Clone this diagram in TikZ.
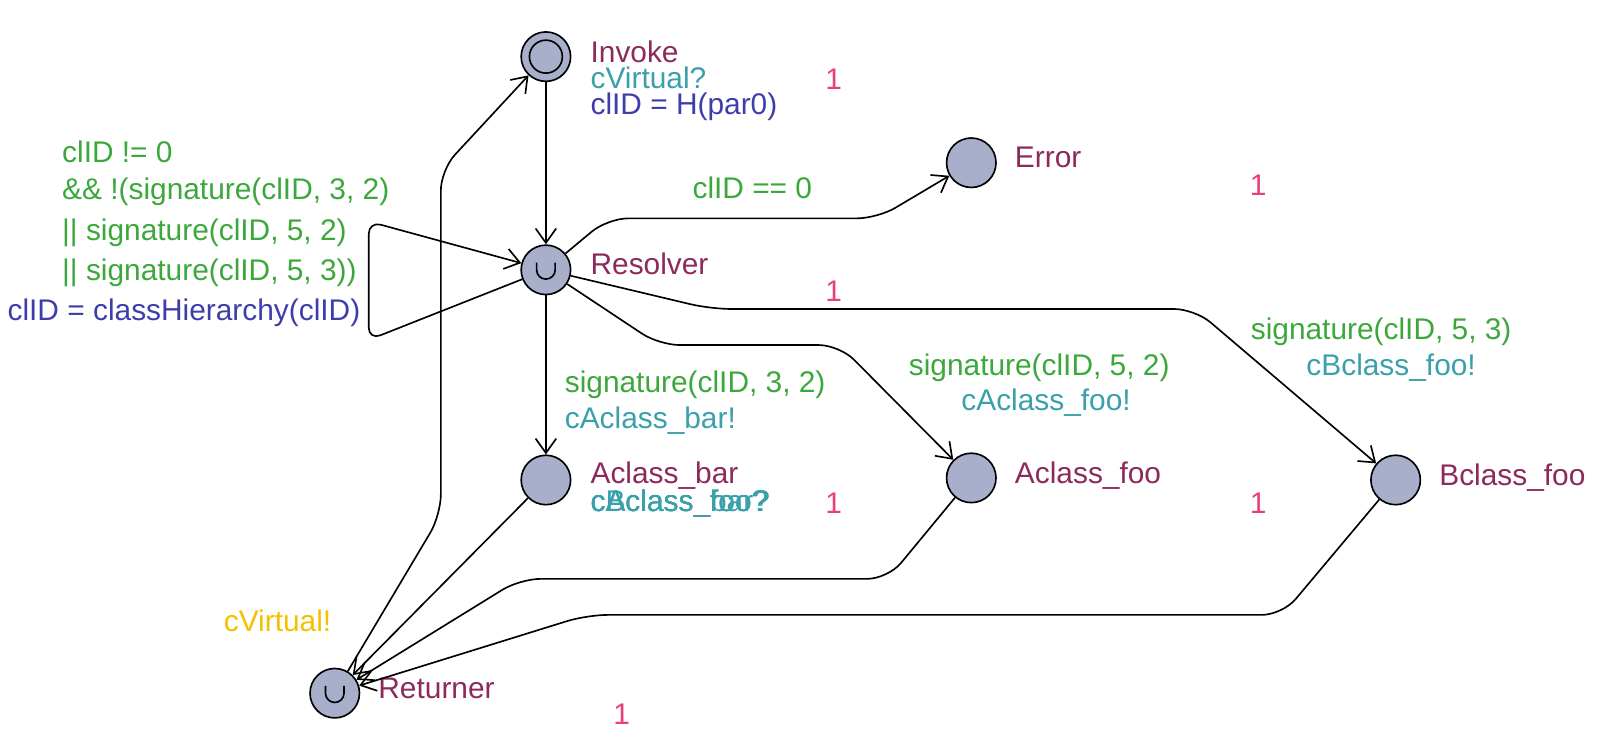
\documentclass[tikz,border=0pt]{standalone}
\usepackage{fontspec}
\setmainfont{Liberation Sans}
\usetikzlibrary{arrows.meta}
\definecolor{locfill}{RGB}{168,175,203}
\definecolor{locname}{RGB}{140,42,92}
\definecolor{guardcol}{RGB}{60,168,60}
\definecolor{synccol}{RGB}{58,160,170}
\definecolor{assigncol}{RGB}{62,62,170}
\definecolor{ratecol}{RGB}{232,64,122}
\definecolor{emitcol}{RGB}{245,192,0}
\tikzset{
	locstyle/.style={circle,draw=black,fill=locfill,line width=0.8pt,minimum size=24pt,inner sep=0pt},
	textstyle/.style={anchor=west,inner sep=0pt,font=\fontsize{14.5}{16}\selectfont},
	namestyle/.style={textstyle,text=locname},
	guardstyle/.style={textstyle,text=guardcol},
	syncstyle/.style={textstyle,text=synccol},
	assignstyle/.style={textstyle,text=assigncol},
	ratestyle/.style={textstyle,text=ratecol},
	edgestyle/.style={draw=black,line width=0.8pt,rounded corners=10pt,-{Straight Barb[length=7pt,width=10pt]}}
}
\newcommand{\urgentmark}[1]{\draw[line width=0.8pt] ([shift={(-4.5pt,3.5pt)}]#1.center) -- ++(0,-3.5pt) arc[start angle=180,end angle=360,radius=4.5pt] -- ++(0,3.5pt);}
\begin{document}
\begin{tikzpicture}[x=0.5pt,y=-0.5pt]
		\useasboundingbox (0,0) rectangle (1567,727);
		% locations
		\node[locstyle] (inv) at (530,55) {};
		\draw[line width=0.8pt] (inv) circle[radius=8pt];
		\node[locstyle] (err) at (943,158) {};
		\node[locstyle] (res) at (530,262) {};
		\urgentmark{res}
		\node[locstyle] (abar) at (530,466) {};
		\node[locstyle] (afoo) at (943,464) {};
		\node[locstyle] (bfoo) at (1355,466) {};
		\node[locstyle] (ret) at (325,673) {};
		\urgentmark{ret}
		% location labels
		\node[namestyle] (invname) at (573,50) {Invoke};
		\node[syncstyle] (invsync) at (573,76) {cVirtual?};
		\node[assignstyle] (invassign) at (573,104) {clID = H(par0)};
		\node[ratestyle] (invrate) at (801,77) {1};
		\node[namestyle] (errname) at (985,153) {Error};
		\node[ratestyle] (errrate) at (1213,180) {1};
		\node[namestyle] (resname) at (573,256) {Resolver};
		\node[ratestyle] (resrate) at (801,283) {1};
		\node[namestyle] (abarname) at (573,462) {Aclass\_bar};
		\node[syncstyle] (abarsync) at (573,489) {cAclass\_bar?};
		\node[syncstyle] (afoosync) at (573,489) {cAclass\_foo?};
		\node[syncstyle] (bfoosync) at (573,489) {cBclass\_foo?};
		\node[ratestyle] (abarrate) at (801,489) {1};
		\node[namestyle] (afooname) at (985,462) {Aclass\_foo};
		\node[ratestyle] (afoorate) at (1213,489) {1};
		\node[namestyle] (bfooname) at (1397,464) {Bclass\_foo};
		\node[namestyle] (retname) at (367,668) {Returner};
		\node[ratestyle] (retrate) at (595,693) {1};
		% edges
		\draw[edgestyle] (inv) -- (res);
		\draw[edgestyle] (res) -- (590,212) -- (852,212) -- (err);
		\draw[edgestyle,rounded corners=6pt] (res) -- (358,330) -- (358,215) -- (res);
		\draw[edgestyle] (res) -- (640,335) -- (815,335) -- (afoo);
		\draw[edgestyle] (res) -- (690,300) -- (1160,300) -- (bfoo);
		\draw[edgestyle] (res) -- (abar);
		\draw[edgestyle] (abar) -- (ret);
		\draw[edgestyle] (afoo) -- (862,562) -- (505,562) -- (ret);
		\draw[edgestyle] (bfoo) -- (1245,597) -- (570,597) -- (ret);
		\draw[edgestyle] (ret) -- (428,500) -- (428,165) -- (inv);
		% edge labels
		\node[guardstyle] (g1) at (60,147) {clID != 0};
		\node[guardstyle] (g2) at (60,186) {\&\& !(signature(clID, 3, 2)};
		\node[guardstyle] (g3) at (60,226) {|| signature(clID, 5, 2)};
		\node[guardstyle] (g4) at (60,265) {|| signature(clID, 5, 3))};
		\node[assignstyle] (a1) at (7,304) {clID = classHierarchy(clID)};
		\node[guardstyle] (g5) at (672,182) {clID == 0};
		\node[guardstyle] (g6) at (548,374) {signature(clID, 3, 2)};
		\node[syncstyle] (s6) at (548,408) {cAclass\_bar!};
		\node[guardstyle] (g7) at (882,357) {signature(clID, 5, 2)};
		\node[syncstyle] (s7) at (933,391) {cAclass\_foo!};
		\node[guardstyle] (g8) at (1214,322) {signature(clID, 5, 3)};
		\node[syncstyle] (s8) at (1268,357) {cBclass\_foo!};
		\node[textstyle,text=emitcol] (s9) at (217,603) {cVirtual!};
\end{tikzpicture}
\end{document}
